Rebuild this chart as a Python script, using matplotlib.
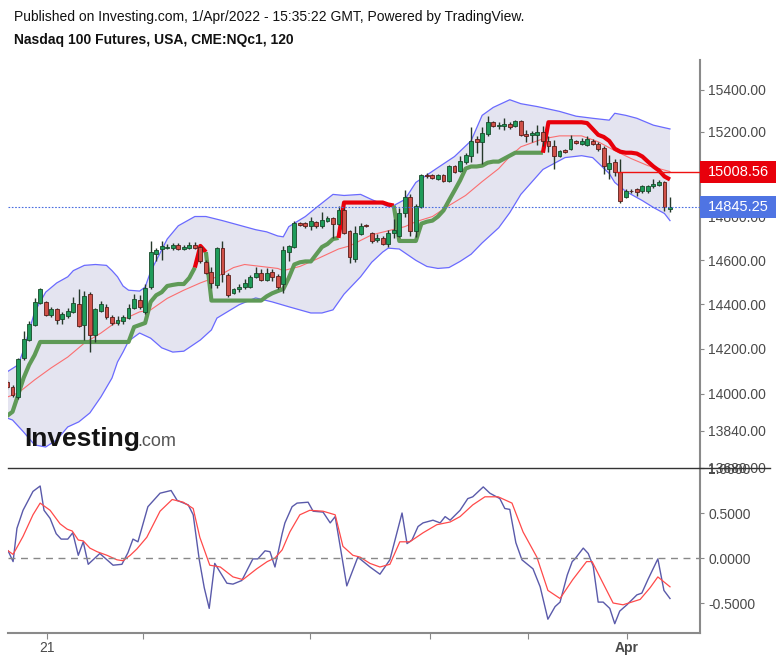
import matplotlib.pyplot as plt
import matplotlib.ticker as mticker
import matplotlib.transforms as mtransforms
from matplotlib.patches import Rectangle
from matplotlib.lines import Line2D
import numpy as np

plt.rcParams['font.family'] = ['Liberation Sans', 'DejaVu Sans']

# 2h candles, Nasdaq 100 futures
opens = [14053, 14031, 13986, 14160, 14239, 14306, 14405, 14410, 14351, 14378,
         14333, 14346, 14365, 14402, 14306, 14445, 14261, 14370, 14388, 14342,
         14315, 14324, 14338, 14383, 14419, 14365, 14477, 14627, 14651, 14655,
         14655, 14669, 14651, 14655, 14669, 14660, 14590, 14548, 14487, 14655,
         14534, 14449, 14468, 14477, 14477, 14524, 14543, 14510, 14548, 14529,
         14491, 14637, 14660, 14772, 14772, 14758, 14777, 14758, 14782, 14796,
         14768, 14833, 14735, 14604, 14721, 14763, 14726, 14693, 14702, 14674,
         14726, 14711, 14815, 14890, 14735, 14847, 14993, 14993, 14978, 14993,
         14969, 15035, 15016, 15058, 15086, 15166, 15152, 15189, 15245, 15227,
         15227, 15236, 15227, 15250, 15189, 15185, 15185, 15199, 15156, 15133,
         15086, 15114, 15119, 15156, 15142, 15138, 15156, 15142, 15124, 15025,
         15058, 15011, 14894, 14922, 14927, 14918, 14918, 14941, 14950, 14960,
         14835]
highs = [14061, 14040, 14160, 14279, 14324, 14428, 14475, 14415, 14389, 14384,
         14365, 14384, 14433, 14468, 14460, 14455, 14384, 14413, 14399, 14350,
         14346, 14350, 14399, 14447, 14443, 14490, 14690, 14655, 14690, 14675,
         14680, 14680, 14670, 14685, 14685, 14665, 14600, 14570, 14660, 14690,
         14540, 14475, 14490, 14515, 14530, 14570, 14560, 14566, 14560, 14535,
         14665, 14670, 14780, 14777, 14777, 14800, 14782, 14824, 14805, 14800,
         14850, 14840, 14740, 14758, 14770, 14768, 14730, 14720, 14710, 14740,
         14790, 14840, 14925, 14905, 14860, 14998, 15005, 14998, 14998, 14998,
         15040, 15040, 15085, 15100, 15222, 15180, 15222, 15275, 15250, 15245,
         15265, 15245, 15258, 15255, 15210, 15205, 15230, 15225, 15180, 15160,
         15115, 15120, 15185, 15160, 15170, 15180, 15165, 15150, 15130, 15091,
         15070, 15072, 14930, 14930, 14935, 14950, 14948, 14975, 14970, 14965,
         14890]
lows = [14022, 13986, 13980, 14150, 14235, 14302, 14399, 14345, 14341, 14312,
        14312, 14336, 14360, 14297, 14239, 14186, 14230, 14365, 14335, 14307,
        14307, 14312, 14331, 14379, 14379, 14355, 14470, 14595, 14600, 14650,
        14648, 14645, 14645, 14650, 14650, 14585, 14535, 14475, 14475, 14500,
        14430, 14445, 14455, 14470, 14472, 14520, 14505, 14505, 14505, 14470,
        14449, 14594, 14655, 14758, 14750, 14740, 14750, 14750, 14775, 14702,
        14760, 14720, 14585, 14590, 14715, 14752, 14680, 14685, 14668, 14660,
        14700, 14705, 14800, 14710, 14705, 14840, 14983, 14978, 14970, 14964,
        14964, 15005, 15010, 15046, 15058, 15100, 15049, 15180, 15220, 15215,
        15210, 15215, 15220, 15180, 15150, 15150, 15135, 15130, 15105, 15025,
        15080, 15100, 15115, 15140, 15138, 15133, 15135, 15110, 14998, 14978,
        14990, 14865, 14885, 14910, 14895, 14912, 14912, 14935, 14945, 14825,
        14820]
closes = [14031, 13995, 14155, 14244, 14311, 14410, 14468, 14351, 14378, 14329,
          14356, 14370, 14405, 14302, 14437, 14261, 14378, 14402, 14342, 14315,
          14329, 14342, 14383, 14423, 14388, 14473, 14637, 14646, 14665, 14660,
          14669, 14651, 14660, 14669, 14655, 14594, 14543, 14496, 14655, 14538,
          14440, 14468, 14477, 14496, 14524, 14543, 14510, 14543, 14524, 14477,
          14646, 14665, 14772, 14763, 14758, 14782, 14758, 14786, 14796, 14768,
          14833, 14726, 14613, 14726, 14758, 14758, 14688, 14702, 14674, 14726,
          14740, 14815, 14894, 14735, 14852, 14993, 14988, 14983, 14993, 14969,
          15035, 15011, 15063, 15091, 15156, 15152, 15194, 15245, 15227, 15231,
          15236, 15222, 15250, 15185, 15180, 15194, 15199, 15156, 15133, 15086,
          15110, 15105, 15166, 15147, 15156, 15166, 15142, 15119, 15035, 15053,
          15011, 14871, 14922, 14918, 14913, 14941, 14941, 14955, 14964, 14847,
          14845.25]

# Bollinger bands, read at selected bars
upper_idx = [0, 2, 3, 5, 7, 9, 11, 12, 14, 16, 18, 19, 20, 21, 22, 24, 25, 26, 29, 31,
             34, 36, 39, 41, 43, 45, 47, 49, 50, 51, 54, 56, 59, 61, 64, 66, 69, 70, 72, 74,
             78, 81, 84, 86, 88, 91, 93, 96, 100, 103, 106, 109, 110, 112, 114, 117, 120]
upper_val = [14097, 14128, 14194, 14365, 14454, 14496, 14524, 14552, 14576, 14580,
             14576, 14552, 14524, 14482, 14463, 14459, 14477, 14548, 14697, 14758,
             14801, 14801, 14782, 14768, 14754, 14740, 14730, 14711, 14707, 14754,
             14801, 14843, 14904, 14899, 14904, 14880, 14847, 14852, 14880, 14960,
             15030, 15082, 15157, 15278, 15316, 15353, 15334, 15320, 15297, 15274,
             15264, 15255, 15288, 15278, 15264, 15231, 15213]
lower_idx = [0, 1, 3, 5, 7, 9, 11, 13, 15, 16, 17, 19, 20, 21, 22, 24, 26, 28, 30, 32,
             35, 37, 38, 42, 45, 48, 51, 55, 57, 59, 61, 64, 66, 68, 69, 71, 74, 76, 78, 80,
             82, 84, 86, 89, 91, 93, 97, 101, 104, 106, 109, 110, 112, 115, 117, 119, 120]
lower_val = [13895, 13886, 13834, 13778, 13769, 13800, 13856, 13878, 13917, 13952,
             13987, 14070, 14141, 14185, 14234, 14270, 14247, 14204, 14185, 14189,
             14239, 14284, 14337, 14397, 14428, 14410, 14388, 14360, 14360, 14374,
             14445, 14524, 14590, 14637, 14655, 14651, 14599, 14571, 14562, 14566,
             14594, 14627, 14679, 14749, 14819, 14904, 15021, 15077, 15086, 15077,
             15002, 14960, 14918, 14875, 14843, 14815, 14782]
mid_idx = [0, 2, 5, 8, 11, 14, 17, 19, 22, 24, 26, 29, 32, 35, 38, 41, 43, 46, 49, 50,
           53, 56, 60, 62, 66, 69, 72, 74, 77, 80, 83, 86, 89, 91, 93, 97, 100, 104, 107, 110,
           113, 116, 120]
mid_val = [13986, 14004, 14062, 14115, 14163, 14225, 14270, 14306, 14342, 14365,
           14374, 14426, 14463, 14496, 14524, 14566, 14580, 14571, 14562, 14552,
           14571, 14604, 14651, 14665, 14716, 14735, 14754, 14777, 14801, 14852,
           14899, 14964, 15025, 15082, 15128, 15166, 15180, 15180, 15152, 15110,
           15072, 15039, 15011]

# trailing stop line, one value per bar; red where it sits above price
stop_val = ([13904, 13922, 13995, 14070, 14128, 14172] + [14230] * 17 +
            [14297, 14306, 14315, 14410, 14440, 14454, 14482, 14487, 14491, 14491, 14519, 14566] +
            [14665, 14637] + [14416] * 10 +
            [14435, 14449, 14459, 14468, 14519, 14580, 14590, 14594, 14594, 14627, 14660, 14674, 14697, 14702] +
            [14866] * 8 + [14857, 14852] + [14688] * 4 +
            [14768, 14777, 14782, 14801, 14829, 14876, 14922, 14969, 15025, 15035, 15035, 15039,
             15053, 15058, 15058, 15072, 15086] +
            [15100] * 6 + [15245] * 7 +
            [15241, 15213, 15185, 15175, 15156, 15119, 15105, 15100, 15100, 15096, 15082, 15058,
             15035, 15016, 14988, 14974])
stop_red_spans = [(35, 36), (61, 70), (98, 120)]

last_price = 14845.25
line_price = 15008.56

# oscillator (blue) and its signal (red)
osc_x = [0.2, 1.1, 1.8, 2.9, 4.7, 6.0, 6.7, 7.8, 8.9, 9.8, 11.0, 11.9, 12.9, 13.8, 14.7, 16.8,
         19.2, 20.8, 21.9, 22.8, 23.7, 25.5, 27.7, 29.7, 30.8, 32.8, 33.7, 34.8, 35.7, 36.6,
         37.6, 39.8, 40.9, 42.5, 44.5, 45.4, 46.7, 47.6, 48.5, 49.8, 50.3, 51.6, 52.5, 54.5,
         55.4, 57.2, 58.5, 59.4, 60.3, 61.5, 63.5, 65.7, 67.5, 69.3, 71.5, 72.4, 73.3, 74.4,
         75.3, 77.1, 78.4, 79.3, 80.2, 82.0, 83.4, 84.3, 86.2, 87.4, 89.2, 90.1, 91.0, 92.1,
         93.2, 95.2, 96.5, 97.9, 99.2, 100.1, 101.4, 102.3, 102.8, 104.3, 105.2, 106.1, 107.0,
         107.9, 109.1, 110.0, 110.9, 112.2, 114.0, 114.9, 116.0, 117.8, 118.9, 120.0]
osc_v = [0.08, -0.04, 0.33, 0.53, 0.74, 0.80, 0.53, 0.44, 0.27, 0.21, 0.21, 0.28, 0.03, 0.18,
         -0.07, 0.05, -0.08, -0.07, 0.06, 0.21, 0.18, 0.57, 0.72, 0.75, 0.64, 0.59, 0.48, -0.02,
         -0.33, -0.56, -0.06, -0.28, -0.29, -0.25, -0.01, -0.01, 0.08, 0.07, -0.10, 0.27, 0.39,
         0.57, 0.61, 0.62, 0.52, 0.51, 0.39, 0.46, 0.13, -0.31, 0.01, -0.10, -0.18, -0.02, 0.50,
         0.16, 0.20, 0.35, 0.39, 0.42, 0.39, 0.46, 0.42, 0.53, 0.66, 0.68, 0.79, 0.72, 0.66,
         0.55, 0.54, 0.17, -0.02, -0.12, -0.32, -0.68, -0.54, -0.49, -0.19, -0.04, -0.01, 0.11,
         0.05, -0.09, -0.49, -0.49, -0.56, -0.73, -0.59, -0.52, -0.41, -0.39, -0.24, -0.01,
         -0.36, -0.45]
sig_x = [0.2, 1.1, 2.9, 4.7, 6.0, 7.8, 9.6, 10.9, 11.8, 12.9, 13.8, 15.0, 16.3, 18.1, 19.9,
         21.0, 22.3, 23.5, 25.3, 27.7, 29.9, 31.9, 33.7, 34.9, 36.7, 38.6, 40.9, 42.7, 45.2,
         47.1, 48.5, 49.8, 51.2, 53.0, 54.8, 57.2, 59.4, 60.8, 62.6, 63.9, 65.7, 67.5, 69.3,
         71.1, 72.9, 75.3, 77.8, 80.2, 82.0, 84.3, 86.5, 88.9, 91.4, 93.4, 95.9, 97.9, 100.1,
         102.4, 104.9, 105.9, 107.3, 109.7, 111.5, 114.6, 116.4, 117.8, 120.0]
sig_v = [0.08, 0.04, 0.24, 0.48, 0.61, 0.53, 0.38, 0.32, 0.30, 0.20, 0.19, 0.11, 0.07, 0.03,
         -0.02, -0.03, 0.03, 0.10, 0.23, 0.52, 0.65, 0.62, 0.55, 0.23, -0.08, -0.10, -0.21,
         -0.24, -0.12, -0.04, 0.00, 0.09, 0.29, 0.48, 0.53, 0.52, 0.48, 0.13, 0.03, 0.01,
         -0.06, -0.10, -0.07, 0.18, 0.18, 0.28, 0.37, 0.40, 0.46, 0.59, 0.68, 0.68, 0.61, 0.29,
         0.01, -0.36, -0.45, -0.24, -0.04, -0.04, -0.21, -0.50, -0.52, -0.46, -0.33, -0.21,
         -0.32]

# 15000.00 sits under the red value box, so it carries no label
price_ticks = [15400, 15200, 15000, 14800, 14600, 14400, 14200, 14000, 13840, 13680]
price_labels = ['15400.00', '15200.00', '', '14800.00', '14600.00', '14400.00',
                '14200.00', '14000.00', '13840.00', '13680.00']
osc_ticks = [1.0, 0.5, 0.0, -0.5]
date_pos = [7.2, 24.7, 54.8, 76.6, 94.3, 112.2]
date_labels = ['21', '', '', '', '', 'Apr']

W, H = 776, 662
fig = plt.figure(figsize=(W / 100, H / 100), dpi=100)
ax = fig.add_axes([8 / W, 1 - 468 / H, 692 / W, 408 / H])
ax2 = fig.add_axes([8 / W, 1 - 633 / H, 692 / W, 165 / H])

xs = np.arange(len(closes))
o = np.array(opens, float)
c = np.array(closes, float)
up = c >= o

# bands
ax.fill(np.r_[upper_idx, lower_idx[::-1]], np.r_[upper_val, lower_val[::-1]],
        color='#e4e4f0', lw=0, zorder=1)
ax.plot(upper_idx, upper_val, color='#6a6aff', lw=0.9, zorder=2)
ax.plot(lower_idx, lower_val, color='#6a6aff', lw=0.9, zorder=2)
ax.plot(mid_idx, mid_val, color='#ff5a5a', lw=0.8, alpha=0.85, zorder=2)

# trailing stop, coloured by side
red = np.zeros(len(stop_val), bool)
for a, b in stop_red_spans:
    red[a:b + 1] = True
start = 0
for i in range(1, len(stop_val) + 1):
    if i == len(stop_val) or red[i] != red[start]:
        seg = slice(max(start - 1, 0), i)
        ax.plot(xs[seg], stop_val[seg], color='#e8000b' if red[start] else '#5f9a57',
                lw=3, solid_capstyle='butt', zorder=3)
        start = i

# candles
ax.vlines(xs, lows, highs, color='#26382b', lw=1, zorder=4)
body_lo = np.minimum(o, c)
body_h = np.maximum(np.abs(c - o), 2)
ax.bar(xs[up], body_h[up], bottom=body_lo[up], width=0.7, color='#1f9b5a',
       edgecolor='#174a2a', lw=0.6, zorder=5)
ax.bar(xs[~up], body_h[~up], bottom=body_lo[~up], width=0.7, color='#cf5048',
       edgecolor='#5a1c18', lw=0.6, zorder=5)

ax.axhline(last_price, color='#4a6ee0', lw=0.8, ls=(0, (1.5, 1.5)), zorder=6)
ax.hlines(line_price, 110.3, 126, color='#ee1111', lw=1, zorder=6)

ax.set_yscale('log')
ax.set_ylim(13678.7, 15545.5)
ax.set_xlim(0.18, 125.43)
ax.yaxis.set_major_locator(mticker.FixedLocator(price_ticks))
ax.yaxis.set_major_formatter(mticker.FixedFormatter(price_labels))
ax.yaxis.set_minor_locator(mticker.NullLocator())
ax.yaxis.tick_right()
ax.tick_params(axis='y', length=3, color='#888888', labelcolor='#4a4a4a', labelsize=10, pad=3)
ax.set_xticks([])
for s in ['left', 'top', 'bottom']:
    ax.spines[s].set_visible(False)
ax.spines['right'].set_color('#8a8a8a')
ax.spines['right'].set_linewidth(1.5)

# last value boxes on the price axis
tr = mtransforms.blended_transform_factory(ax.transAxes, ax.transData)
for val, col in [(line_price, '#e8000b'), (last_price, '#4f74e3')]:
    k = np.exp(11 / 3189.6)
    ax.add_patch(Rectangle((1.0, val / k), 76 / 692, val * k - val / k, transform=tr,
                           facecolor=col, edgecolor='none', clip_on=False, zorder=10))
    ax.text(1.0 + 38 / 692, val, '%.2f' % val, transform=tr, ha='center', va='center',
            color='white', fontsize=10.5, zorder=11, clip_on=False)

# oscillator panel
ax2.plot(osc_x, osc_v, color='#5a5aaa', lw=1)
ax2.plot(sig_x, sig_v, color='#ff4a4a', lw=0.9)
ax2.axhline(0, color='#888888', lw=1, ls=(0, (5, 4)))
ax2.set_xlim(0.18, 125.43)
ax2.set_ylim(-0.8333, 1.0)
ax2.yaxis.tick_right()
ax2.set_yticks(osc_ticks)
ax2.set_yticklabels(['%.4f' % t for t in osc_ticks])
ax2.tick_params(axis='y', length=3, color='#888888', labelcolor='#4a4a4a', labelsize=10, pad=3)
ax2.set_xticks(date_pos)
ax2.set_xticklabels(date_labels)
ax2.tick_params(axis='x', length=4, color='#888888', labelcolor='#4a4a4a', labelsize=10, pad=2)
ax2.get_xticklabels()[-1].set_fontweight('bold')
ax2.spines['left'].set_visible(False)
ax2.spines['top'].set_visible(False)
for s in ['right', 'bottom']:
    ax2.spines[s].set_color('#8a8a8a')
    ax2.spines[s].set_linewidth(1.5)

# panel separator runs through the axis labels
fig.add_artist(Line2D([8 / W, 770 / W], [1 - 468 / H, 1 - 468 / H], color='#333333', lw=1))

fig.text(14 / W, 1 - 17 / H,
         'Published on Investing.com, 1/Apr/2022 - 15:35:22 GMT, Powered by TradingView.',
         fontsize=10, va='center', color='#111111')
fig.text(14 / W, 1 - 40 / H, 'Nasdaq 100 Futures, USA, CME:NQc1, 120',
         fontsize=10, fontweight='bold', va='center', color='#111111')

fig.text(24 / W, 1 - 439 / H, 'Investing', fontsize=19, fontweight='bold',
         va='center', color='#141414')
fig.text(137 / W, 1 - 441 / H, '.com', fontsize=13, va='center', color='#555555')

fig.savefig('out.png', dpi=100, facecolor='white')
